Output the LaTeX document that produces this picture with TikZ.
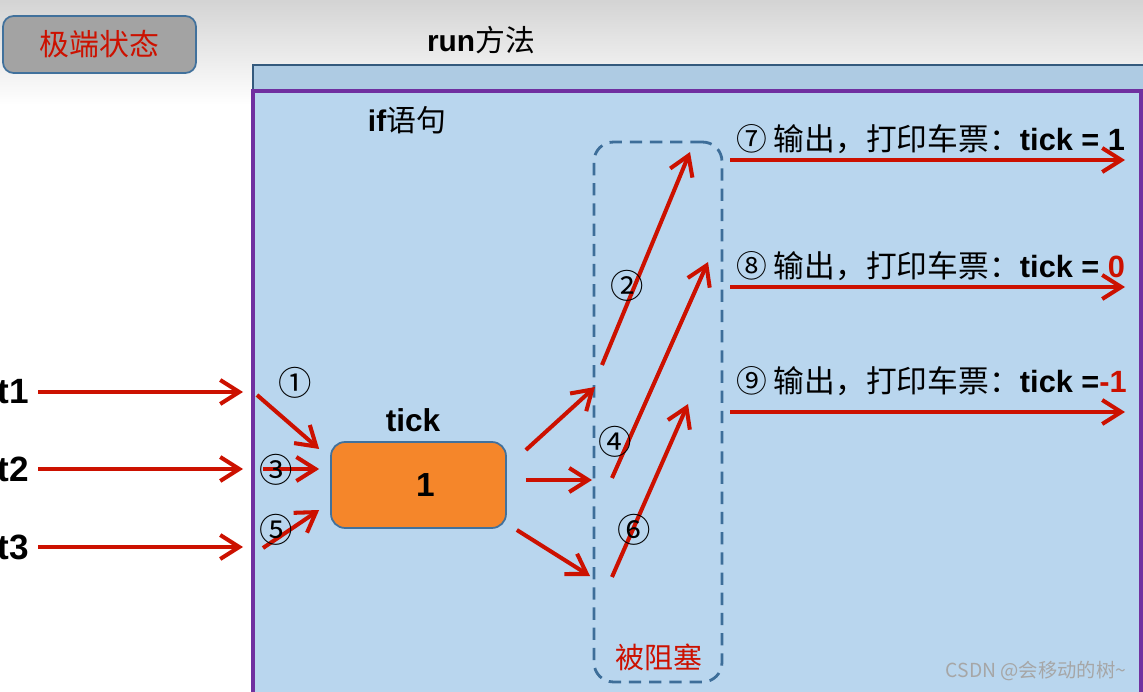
\documentclass[tikz,border=0pt]{standalone}
\usepackage{fontspec}
\setmainfont{Liberation Sans}
\newfontfamily\cjk{Noto Sans CJK SC}
\usepackage{xcolor}
\definecolor{cRed}{HTML}{CC1100}
\definecolor{cEdge}{HTML}{41719C}
\definecolor{cRun}{HTML}{AECBE3}
\definecolor{cIf}{HTML}{B9D6EE}
\definecolor{cPurple}{HTML}{7030A0}
\definecolor{cOrange}{HTML}{F5862A}
\definecolor{cDash}{HTML}{3D6E99}
\definecolor{cState}{HTML}{A3A3A3}
\usepackage{tikz}
\usetikzlibrary{arrows.meta}
\tikzset{
  run-box/.style={draw=cEdge!80!black,line width=1.2pt,fill=cRun},
  if-box/.style={draw=cPurple,line width=1.8pt,fill=cIf},
  state-box/.style={draw=cEdge,line width=1pt,fill=cState,rounded corners=6pt,
    minimum width=3.86cm,minimum height=1.14cm,text=cRed,font=\cjk\fontsize{17}{20}\selectfont},
  tick-box/.style={draw=cEdge,line width=1pt,fill=cOrange,rounded corners=8pt,
    minimum width=3.5cm,minimum height=1.72cm,font=\bfseries\fontsize{19}{22}\selectfont},
  blocked-box/.style={draw=cDash,line width=1.6pt,dash pattern=on 7pt off 4.5pt,
    rounded corners=11pt,minimum width=2.56cm,minimum height=10.8cm},
  title-text/.style={font=\fontsize{17}{20}\selectfont},
  thread-text/.style={font=\bfseries\fontsize{20}{24}\selectfont},
  num-circ/.style={font=\cjk\fontsize{19}{22}\selectfont,inner sep=0pt},
  out-text/.style={anchor=west,inner sep=0pt,font=\fontsize{17.5}{20}\selectfont},
  arrow-red/.style={-{Straight Barb[length=3.8mm,width=4.8mm]},line width=2.3pt,draw=cRed},
}

\begin{document}
\begin{tikzpicture}[x=0.02cm,y=-0.02cm]
  \useasboundingbox (0,0) rectangle (1143,692);
  \clip (0,0) rectangle (1143,692);
  % background and the two frames
  \shade[top color=black!17,bottom color=white] (0,0) rectangle (1143,105);
  \draw[run-box] (253,65) rectangle (1160,720);
  \draw[if-box] (253,91) rectangle (1141,720);

  \node[state-box] (state) at (99.5,44.5) {极端状态};
  \node[title-text] (run) at (481,40) {\textbf{run}\cjk 方法};
  \node[title-text] (if) at (407,120) {\textbf{if}\cjk 语句};

  % threads
  \node[thread-text] (t1) at (13,392) {t1};
  \node[thread-text] (t2) at (13,469) {t2};
  \node[thread-text] (t3) at (13,547) {t3};
  \coordinate (t1-in) at (243,392);
  \coordinate (t2-in) at (243,469);
  \coordinate (t3-in) at (243,547);
  \draw[arrow-red,shorten <=2pt] (t1) -- (t1-in);
  \draw[arrow-red,shorten <=2pt] (t2) -- (t2-in);
  \draw[arrow-red,shorten <=2pt] (t3) -- (t3-in);

  % ticket counter
  \node[tick-box] (tick) at (418.5,485) {\hspace{8pt}1};
  \node[thread-text,font=\bfseries\fontsize{18}{22}\selectfont] (tick-name) at (413,420) {tick};

  \coordinate (a1) at (257,395);
  \coordinate (a3) at (263,469);
  \coordinate (a5) at (263,548);
  \draw[arrow-red] (a1) -- ([shift={(-11,-36)}]tick.west);
  \draw[arrow-red] (a3) -- ([shift={(-11,-16)}]tick.west);
  \draw[arrow-red] (a5) -- ([shift={(-11,25)}]tick.west);
  \node[num-circ] (n1) at (295,383) {①};
  \node[num-circ] (n3) at (276,470) {③};
  \node[num-circ] (n5) at (276,530) {⑤};

  % blocked threads
  \node[blocked-box] (blocked) at (658,412) {};
  \node[text=cRed,font=\cjk\fontsize{16.5}{19}\selectfont] (blocked-name) at (659,657) {被阻塞};
  \coordinate (w1) at (595,387);
  \coordinate (w2) at (592,480);
  \coordinate (w3) at (590,576);
  \draw[arrow-red] ([shift={(19,-35)}]tick.east) -- (w1);
  \draw[arrow-red] ([shift={(19,-5)}]tick.east) -- (w2);
  \draw[arrow-red] ([shift={(10,45)}]tick.east) -- (w3);

  \coordinate (d2a) at (602,365); \coordinate (d2b) at (690,152);
  \coordinate (d4a) at (612,478); \coordinate (d4b) at (708,262);
  \coordinate (d6a) at (612,577); \coordinate (d6b) at (688,404);
  \draw[arrow-red] (d2a) -- (d2b);
  \draw[arrow-red] (d4a) -- (d4b);
  \draw[arrow-red] (d6a) -- (d6b);
  \node[num-circ] (n2) at (627,286) {②};
  \node[num-circ] (n4) at (615,442) {④};
  \node[num-circ] (n6) at (634,530) {⑥};

  % printed tickets
  \coordinate (o7a) at (730,160); \coordinate (o7b) at (1125,160);
  \coordinate (o8a) at (730,287); \coordinate (o8b) at (1125,287);
  \coordinate (o9a) at (730,412); \coordinate (o9b) at (1125,412);
  \draw[arrow-red] (o7a) -- (o7b);
  \draw[arrow-red] (o8a) -- (o8b);
  \draw[arrow-red] (o9a) -- (o9b);
  \node[out-text] (p7) at (736,139) {{\cjk ⑦ 输出，打印车票：}\textbf{tick = 1}};
  \node[out-text] (p8) at (736,266) {{\cjk ⑧ 输出，打印车票：}\textbf{tick = \textcolor{cRed}{0}}};
  \node[out-text] (p9) at (736,381) {{\cjk ⑨ 输出，打印车票：}\textbf{tick =\textcolor{cRed}{-1}}};

  \node[text=black!35,font=\cjk\fontsize{11}{13}\selectfont] (mark) at (1036,671) {CSDN @会移动的树\textasciitilde};
\end{tikzpicture}
\end{document}
